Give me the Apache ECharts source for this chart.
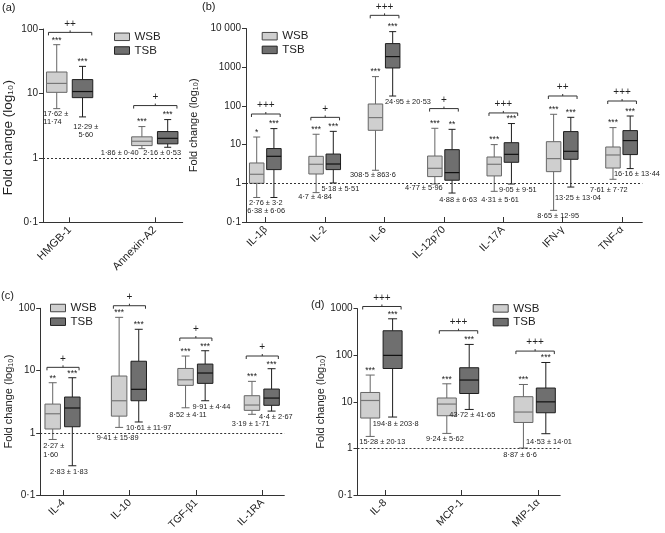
<!DOCTYPE html>
<html><head><meta charset="utf-8">
<script src="https://cdn.jsdelivr.net/npm/echarts@6/dist/echarts.min.js"></script>
<style>html,body{margin:0;padding:0;background:#fff}#c{width:665px;height:533px}</style>
</head><body><div id="c"></div><script>
// ---------- DATA ----------
// each box: [min, Q1, median, Q3, max]
const catsA = ['HMGB-1', 'Annexin-A2'];
const wsbA = [[5.81, 10.4, 14.3, 21.5, 57.1], [1.39, 1.55, 1.81, 2.12, 3.06]];
const tsbA = [[4.32, 8.6, 10.7, 16.4, 26.3], [1.46, 1.65, 2.01, 2.56, 3.93]];
const meanWsbA = ['17·62 ±\n11·74', '1·86 ± 0·40'];
const meanTsbA = ['12·29 ±\n5·60', '2·16 ± 0·53'];
const starsWsbA = ['***', '***'];
const starsTsbA = ['***', '***'];
const diffA = ['++', '+'];
const yTickLabelsA = ['0·1', '1', '10', '100'];

const catsB = ['IL-1β', 'IL-2', 'IL-6', 'IL-12p70', 'IL-17A', 'IFN-γ', 'TNF-α'];
const wsbB = [
  [0.43, 1.0, 1.71, 3.35, 15.7],
  [0.575, 1.74, 3.1, 4.98, 18.5],
  [2.17, 23.4, 49.9, 112, 571],
  [0.96, 1.49, 2.44, 5.07, 26.4],
  [0.62, 1.55, 3.1, 4.78, 10.0],
  [0.2, 2.0, 4.35, 11.9, 60.7],
  [1.27, 2.48, 5.39, 8.67, 27.5]
];
const tsbB = [
  [0.43, 2.26, 4.98, 7.9, 25.9],
  [1.02, 2.26, 3.15, 5.7, 22],
  [180, 955, 1880, 4070, 8300],
  [0.56, 1.2, 1.89, 7.4, 24.8],
  [0.96, 3.49, 5.6, 11.2, 35],
  [0.8, 4.17, 6.71, 21.7, 50.7],
  [2.4, 5.52, 12.7, 23, 54.8]
];
const meanWsbB = ['2·76 ± 3·2', '4·7 ± 4·84', '308·5 ± 863·6', '4·77 ± 5·96', '4·31 ± 5·61', '8·65 ± 12·95', '7·61 ± 7·72'];
const meanTsbB = ['6·38 ± 6·06', '5·18 ± 5·51', '24·95 ± 20·53', '4·88 ± 6·63', '9·05 ± 9·51', '13·25 ± 13·04', '16·16 ± 13·44'];
const starsWsbB = ['*', '***', '***', '***', '***', '***', '***'];
const starsTsbB = ['***', '***', '***', '**', '***', '***', '***'];
const diffB = ['+++', '+', '+++', '+', '+++', '++', '+++'];
const yTickLabelsB = ['0·1', '1', '10', '100', '1000', '10 000'];

const catsC = ['IL-4', 'IL-10', 'TGF-β1', 'IL-1RA'];
const wsbC = [[0.78, 1.15, 2.02, 2.89, 6.37], [1.22, 1.85, 3.27, 8.16, 71.6], [2.52, 5.78, 7.1, 10.8, 17.1], [1.98, 2.29, 2.79, 3.94, 6.7]];
const tsbC = [[0.295, 1.25, 2.5, 3.75, 7.66], [1.49, 3.27, 4.99, 14.1, 46], [3.27, 6.22, 9.12, 12.7, 20.8], [2.23, 2.76, 3.61, 5.04, 10.7]];
const meanWsbC = ['2·27 ±\n1·60', '9·41 ± 15·89', '8·52 ± 4·11', '3·19 ± 1·71'];
const meanTsbC = ['2·83 ± 1·83', '10·61 ± 11·97', '9·91 ± 4·44', '4·4 ± 2·67'];
const starsWsbC = ['**', '***', '***', '***'];
const starsTsbC = ['***', '***', '***', '***'];
const diffC = ['+', '+', '+', '+'];
const yTickLabelsC = ['0·1', '1', '10', '100'];

const catsD = ['IL-8', 'MCP-1', 'MIP-1α'];
const wsbD = [[1.81, 4.49, 10.7, 15.9, 37.6], [2.1, 5.03, 8.96, 12.1, 24.4], [1.02, 3.61, 6.04, 12.9, 23.6]];
const tsbD = [[4.72, 52, 99.5, 336, 607], [6.87, 15.1, 29.4, 54, 171], [2.07, 5.83, 10.0, 19.8, 70]];
const meanWsbD = ['15·28 ± 20·13', '9·24 ± 5·62', '8·87 ± 6·6'];
const meanTsbD = ['194·8 ± 203·8', '43·72 ± 41·65', '14·53 ± 14·01'];
const starsWsbD = ['***', '***', '***'];
const starsTsbD = ['***', '***', '***'];
const diffD = ['+++', '+++', '+++'];
const yTickLabelsD = ['0·1', '1', '10', '100', '1000'];

const seriesNames = ['WSB', 'TSB'];
const yName = 'Fold change (log₁₀)';

// ---------- LAYOUT / STYLE ----------
const FONT = '"Liberation Sans", Arial, Helvetica, sans-serif';
const INK = '#222';
const NOTE_SIZE = 7.4;
const W_FILL = '#cfcfcf', W_STROKE = '#666', W_MED = '#777';
const T_FILL = '#6f6f6f', T_STROKE = '#1e1e1e', T_MED = '#111';

const panels = [
  { title: '(a)', titlePos: [2, 2], cats: catsA, wsb: wsbA, tsb: tsbA, meanW: meanWsbA, meanT: meanTsbA,
    starsW: starsWsbA, starsT: starsTsbA, diff: diffA, yLabels: yTickLabelsA,
    grid: { left: 41, top: 29, width: 141.7, height: 193.3 }, xMin: -0.3125, xMax: 1.3275, yMin: 0.1, yMax: 100,
    off: [-12.9, 12.9], boxW: 20.5, capW: 7,
    noteW: [[-26.3, 9.3, 'left'], [-54, 4.3, 'left']], noteT: [[16.2, 14, 'center'], [-11.5, 5.6, 'left']],
    brGap: [12.3, 14], legend: { left: 114, top: 30.8 }, nameGap: 28, nameSize: 13.5, namePad: [0, 24, 0, 0], catSize: 11 },
  { title: '(b)', titlePos: [202, 1], cats: catsB, wsb: wsbB, tsb: tsbB, meanW: meanWsbB, meanT: meanTsbB,
    starsW: starsWsbB, starsT: starsTsbB, diff: diffB, yLabels: yTickLabelsB,
    grid: { left: 246, top: 28.5, width: 396.3, height: 193.5 }, xMin: -0.332, xMax: 6.342, yMin: 0.1, yMax: 10000,
    off: [-9, 8.2], boxW: 14.5, capW: 7,
    noteW: [[-16.7, 5.5], [-26.8, 4.7], [-34.5, 4.7], [-38.9, 4], [-22, 9], [-25.4, 5.7], [-32.1, 10.3]],
    noteT: [[-18.4, 13.8], [-3.6, 6], [0.5, 6.3], [-4.6, 7.3], [-4.3, 6.3], [-7.7, 11.3], [-8.1, 5.7]],
    brGap: [14.6, 14, 16.3, 19.7, 10.6, 18.3, 15], legend: { left: 261.7, top: 30.2 }, nameGap: 30, nameSize: 11, namePad: [0, 0, 0, 0], catSize: 10.5 },
  { title: '(c)', titlePos: [1, 290], cats: catsC, wsb: wsbC, tsb: tsbC, meanW: meanWsbC, meanT: meanTsbC,
    starsW: starsWsbC, starsT: starsTsbC, diff: diffC, yLabels: yTickLabelsC,
    grid: { left: 40.2, top: 308.3, width: 244.1, height: 186.7 }, xMin: -0.348, xMax: 3.327, yMin: 0.1, yMax: 100,
    off: [-10.6, 9], boxW: 15.5, capW: 8,
    noteW: [[-20, 10.9], [-33, 11], [-26.8, 7.3], [-30.8, 10.1]],
    noteT: [[-13.3, 6.3], [-3.7, 5.8], [-3.6, 6], [-3.5, 5.7]],
    brGap: [10.4, 11.6, 12.7, 12.7], legend: { left: 50, top: 302 }, nameGap: 26, nameSize: 11, namePad: [0, 0, 0, 0], catSize: 10.5 },
  { title: '(d)', titlePos: [311, 299], cats: catsD, wsb: wsbD, tsb: tsbD, meanW: meanWsbD, meanT: meanTsbD,
    starsW: starsWsbD, starsT: starsTsbD, diff: diffD, yLabels: yTickLabelsD,
    grid: { left: 357.5, top: 308.7, width: 202.7, height: 186.3 }, xMin: -0.359, xMax: 2.287, yMin: 0.1, yMax: 1000,
    off: [-14.8, 7.6], boxW: 19, capW: 9,
    noteW: [[-25.7, 6], [-35.6, 5.3], [-34.9, 7.4]],
    noteT: [[-12.3, 7], [-12.3, 6], [-12.2, 8.7]],
    brGap: [12.3, 13.7, 11.4], legend: { left: 492.7, top: 302.4 }, nameGap: 31, nameSize: 11, namePad: [0, 0, 0, 0], catSize: 10.5 }
];

function boxRender(P, k) {
  const fill = k === 0 ? W_FILL : T_FILL, stroke = k === 0 ? W_STROKE : T_STROKE, med = k === 0 ? W_MED : T_MED;
  return function (params, api) {
    const i = api.value(0);
    const x = api.coord([i, 1])[0] + P.off[k];
    const y = j => api.coord([i, api.value(j)])[1];
    const yMin = y(1), yQ1 = y(2), yMed = y(3), yQ3 = y(4), yMax = y(5);
    const h = P.boxW / 2, c = P.capW / 2;
    const ls = { stroke: stroke, lineWidth: 1 };
    return { type: 'group', children: [
      { type: 'line', shape: { x1: x, y1: yMax, x2: x, y2: yQ3 }, style: ls },
      { type: 'line', shape: { x1: x, y1: yQ1, x2: x, y2: yMin }, style: ls },
      { type: 'line', shape: { x1: x - c, y1: yMax, x2: x + c, y2: yMax }, style: ls },
      { type: 'line', shape: { x1: x - c, y1: yMin, x2: x + c, y2: yMin }, style: ls },
      { type: 'rect', shape: { x: x - h, y: yQ3, width: P.boxW, height: yQ1 - yQ3 }, style: { fill: fill, stroke: stroke, lineWidth: 1 } },
      { type: 'line', shape: { x1: x - h, y1: yMed, x2: x + h, y2: yMed }, style: { stroke: med, lineWidth: 1.2 } }
    ] };
  };
}

function txt(s, x, y, size, align) {
  return { type: 'text', style: { text: s, x: x, y: y, fill: INK, fontSize: size, fontFamily: FONT,
    align: align, verticalAlign: 'middle', lineHeight: size + 1 } };
}

function annotRender(P) {
  return function (params, api) {
    const i = api.value(0);
    const cx = api.coord([i, 1])[0];
    const xW = cx + P.off[0], xT = cx + P.off[1];
    const py = v => api.coord([i, v])[1];
    const w = P.wsb[i], t = P.tsb[i];
    const topW = py(w[4]), topT = py(t[4]), botW = py(w[0]), botT = py(t[0]);
    const ch = [];
    ch.push(txt(P.starsW[i], xW, topW - 4.5, 8.5, 'center'));
    ch.push(txt(P.starsT[i], xT, topT - 4.5, 8.5, 'center'));
    const by = Math.min(topW, topT) - P.brGap[i];
    const bx1 = xW - P.boxW / 2 + 2, bx2 = xT + P.boxW / 2 - 1;
    ch.push({ type: 'polyline', shape: { points: [[bx1, by + 3], [bx1, by], [bx2, by], [bx2, by + 3]] },
      style: { stroke: '#333', fill: 'none', lineWidth: 1 } });
    const bm = (bx1 + bx2) / 2;
    ch.push({ type: 'line', shape: { x1: bm, y1: by, x2: bm, y2: by - 2 }, style: { stroke: '#333', lineWidth: 1 } });
    ch.push(txt(P.diff[i], bm, by - 8.5, 10, 'center'));
    const nW = P.noteW[i], nT = P.noteT[i];
    ch.push(txt(P.meanW[i], cx + nW[0], botW + nW[1], NOTE_SIZE, nW[2] || 'left'));
    ch.push(txt(P.meanT[i], cx + nT[0], botT + nT[1], NOTE_SIZE, nT[2] || 'left'));
    return { type: 'group', children: ch };
  };
}

const option = { animation: false, backgroundColor: '#fff', title: [], legend: [], grid: [], xAxis: [], yAxis: [], series: [] };

panels.forEach((P, g) => {
  option.title.push({ text: P.title, left: P.titlePos[0], top: P.titlePos[1], padding: 0,
    textStyle: { fontSize: 11, fontWeight: 'normal', color: INK, fontFamily: FONT } });
  option.legend.push({ orient: 'vertical', left: P.legend.left, top: P.legend.top, padding: 0, itemGap: 1.7,
    itemWidth: 15, itemHeight: 7.5, icon: 'rect', selectedMode: false,
    textStyle: { fontSize: 11.5, color: INK, fontFamily: FONT, lineHeight: 11 },
    data: [
      { name: seriesNames[0], itemStyle: { color: W_FILL, borderColor: '#444', borderWidth: 1 } },
      { name: seriesNames[1], itemStyle: { color: T_FILL, borderColor: '#222', borderWidth: 1 } }
    ] });
  option.grid.push(Object.assign({ containLabel: false }, P.grid));
  const idx = P.cats.map((c, i) => i);
  option.xAxis.push({ type: 'value', gridIndex: g, min: P.xMin, max: P.xMax,
    axisLine: { show: true, onZero: false, lineStyle: { color: '#333', width: 1 } },
    axisTick: { show: true, inside: true, length: 5, customValues: idx, lineStyle: { color: '#333' } },
    axisLabel: { show: true, customValues: idx, rotate: 45, margin: 6, fontSize: P.catSize, color: INK, fontFamily: FONT,
      formatter: v => P.cats[Math.round(v)] },
    splitLine: { show: false } });
  option.yAxis.push({ type: 'log', logBase: 10, gridIndex: g, min: P.yMin, max: P.yMax,
    name: yName, nameLocation: 'middle', nameGap: P.nameGap,
    nameTextStyle: { fontSize: P.nameSize, color: INK, fontFamily: FONT, padding: P.namePad },
    axisLine: { show: true, onZero: false, lineStyle: { color: '#333', width: 1 } },
    axisTick: { show: true, inside: false, length: 4, lineStyle: { color: '#333' } },
    axisLabel: { fontSize: 10, color: INK, fontFamily: FONT, margin: 5,
      formatter: v => P.yLabels[Math.round(Math.log10(v)) + 1] },
    splitLine: { show: false }, minorTick: { show: false } });
  [P.wsb, P.tsb].forEach((arr, k) => {
    const s = { type: 'custom', name: seriesNames[k], xAxisIndex: g, yAxisIndex: g,
      encode: { x: 0, y: [1, 2, 3, 4, 5] },
      itemStyle: { color: k === 0 ? W_FILL : T_FILL },
      data: arr.map((b, i) => [i].concat(b)),
      renderItem: boxRender(P, k), silent: true };
    if (k === 0) {
      s.markLine = { silent: true, symbol: 'none', label: { show: false },
        lineStyle: { type: [2, 2], color: '#333', width: 1 }, data: [{ yAxis: 1 }] };
    }
    option.series.push(s);
  });
  option.series.push({ type: 'custom', name: 'notes' + g, xAxisIndex: g, yAxisIndex: g,
    encode: { x: 0, y: 1 }, data: P.cats.map((c, i) => [i, 1]), renderItem: annotRender(P), silent: true, z: 5 });
});

const chart = echarts.init(document.getElementById('c'), null, { renderer: 'canvas' });
chart.setOption(option);
</script></body></html>
